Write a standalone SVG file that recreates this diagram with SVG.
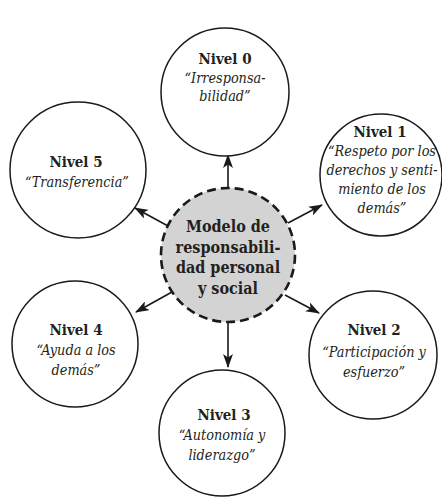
<svg xmlns="http://www.w3.org/2000/svg" width="442" height="499" viewBox="0 0 442 499">
  <defs>
    <marker id="arrow" viewBox="0 0 14 10" refX="13" refY="5" markerWidth="14" markerHeight="10" markerUnits="userSpaceOnUse" orient="auto">
      <path d="M0,0 L14,5 L0,10 L3.5,5 z" fill="#1a1a1a"/>
    </marker>
  </defs>
  <style>
    .lvl { fill: #ffffff; stroke: #1a1a1a; stroke-width: 1.5; }
    .hub { fill: #d3d3d3; stroke: #1a1a1a; stroke-width: 2.6; stroke-dasharray: 9 5; }
    .link { stroke: #1a1a1a; stroke-width: 1.6; fill: none; marker-end: url(#arrow); }
    text { fill: #231f20; text-anchor: middle; font-family: "DejaVu Serif Condensed", "DejaVu Serif", serif; font-stretch: condensed; }
    .t { font-weight: bold; font-size: 15px; }
    .d { font-style: italic; font-size: 14.3px; }
    .c { font-weight: bold; font-size: 16px; }
  </style>

  <!-- connectors from the central model to each level -->
  <g id="connectors">
    <line class="link" x1="228" y1="188" x2="228" y2="155"/>
    <line class="link" x1="288" y1="223" x2="322" y2="205"/>
    <line class="link" x1="285" y1="295" x2="319" y2="313"/>
    <line class="link" x1="228" y1="322" x2="228" y2="367"/>
    <line class="link" x1="172" y1="292" x2="136" y2="312"/>
    <line class="link" x1="168" y1="226" x2="135" y2="208"/>
  </g>

  <g id="nivel0">
    <circle class="lvl" cx="225" cy="92" r="64"/>
    <text class="t" x="225" y="64">Nivel 0</text>
    <text class="d" x="225" y="83">“Irresponsa-</text>
    <text class="d" x="225" y="101">bilidad”</text>
  </g>

  <g id="nivel1">
    <circle class="lvl" cx="381" cy="175" r="61"/>
    <text class="t" x="380" y="137">Nivel 1</text>
    <text class="d" x="382" y="156">“Respeto por los</text>
    <text class="d" x="382" y="175">derechos y senti-</text>
    <text class="d" x="382" y="194">miento de los</text>
    <text class="d" x="382" y="213">demás”</text>
  </g>

  <g id="nivel2">
    <circle class="lvl" cx="373" cy="355" r="64"/>
    <text class="t" x="374" y="335">Nivel 2</text>
    <text class="d" x="374" y="357">“Participación y</text>
    <text class="d" x="374" y="377">esfuerzo”</text>
  </g>

  <g id="nivel3">
    <circle class="lvl" cx="222" cy="433" r="63"/>
    <text class="t" x="224" y="420">Nivel 3</text>
    <text class="d" x="222" y="440">“Autonomía y</text>
    <text class="d" x="222" y="460">liderazgo”</text>
  </g>

  <g id="nivel4">
    <circle class="lvl" cx="75" cy="344" r="63"/>
    <text class="t" x="76" y="335">Nivel 4</text>
    <text class="d" x="76" y="355">“Ayuda a los</text>
    <text class="d" x="76" y="375">demás”</text>
  </g>

  <g id="nivel5">
    <circle class="lvl" cx="78" cy="170" r="68"/>
    <text class="t" x="76" y="167">Nivel 5</text>
    <text class="d" x="77" y="187">“Transferencia”</text>
  </g>

  <g id="modelo">
    <circle class="hub" cx="228" cy="255" r="67"/>
    <text class="c" x="228" y="232">Modelo de</text>
    <text class="c" x="228" y="253">responsabili-</text>
    <text class="c" x="228" y="273">dad personal</text>
    <text class="c" x="228" y="294">y social</text>
  </g>
</svg>
